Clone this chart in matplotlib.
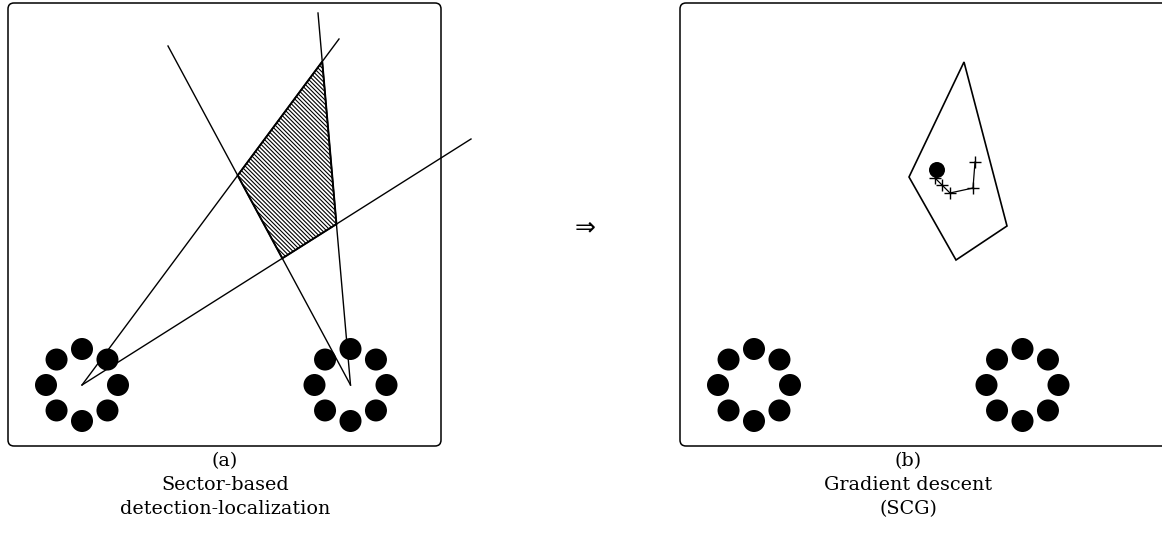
import numpy as np
import matplotlib
matplotlib.use("Agg")
import matplotlib.pyplot as plt
from matplotlib.patches import Circle, FancyBboxPatch, Polygon

plt.rcParams["font.family"] = "DejaVu Serif"
plt.rcParams["hatch.linewidth"] = 0.8

#%% layout data (pixel frame, y grows downward)

W, H = 1162, 542
panel_left = [8, 680]
panel_width = [433, 520]
panel_top, panel_height = 3, 443

# two circular microphone arrays, same place in both panels
array_dx = [74, 342.5]
array_y = 385
ring_radius = 36
mic_radius = 11
n_mics = 8

# (a) sector rays: each array casts two bounding rays (end points)
rays_left = [(339, 39), (471, 139)]
rays_right = [(168, 46), (318, 13)]

# (b) initial polygon and descent path
poly_b_x = [964, 909, 956, 1007]
poly_b_y = [62, 177, 260, 226]
path_x = [975, 973, 950, 942, 935]
path_y = [162, 188, 193, 185, 178]
target_b = (937, 170)
target_radius = 8

captions = [["(a)", "Sector-based", "detection-localization"],
            ["(b)", "Gradient descent", "(SCG)"]]
caption_x = [225, 908]
caption_y = [461, 485, 509]


def intersect(p0, p1, q0, q1):
    p0, p1, q0, q1 = map(np.asarray, (p0, p1, q0, q1))
    d1, d2 = p1 - p0, q1 - q0
    m = np.array([d1, -d2]).T
    t, _ = np.linalg.solve(m, q0 - p0)
    return p0 + t * d1


#%% plot

fig = plt.figure(figsize=(W / 100, H / 100), dpi=100)
ax = fig.add_axes([0, 0, 1, 1])
ax.set_xlim(0, W)
ax.set_ylim(H, 0)
ax.axis("off")

for k, x0 in enumerate(panel_left):
    box = FancyBboxPatch((x0, panel_top), panel_width[k], panel_height,
                         boxstyle="round,pad=0,rounding_size=6",
                         fc="white", ec="black", lw=1.1, zorder=0)
    ax.add_patch(box)
    for dx in array_dx:
        cx = x0 + dx
        for j in range(n_mics):
            a = np.pi / 2 + 2 * np.pi * j / n_mics
            ax.add_patch(Circle((cx + ring_radius * np.cos(a),
                                 array_y - ring_radius * np.sin(a)),
                                mic_radius, fc="black", ec="none", zorder=3))
    for line, y in zip(captions[k], caption_y):
        ax.text(caption_x[k], y, line, ha="center", va="center", fontsize=13.8)

# sector rays from the array centres
src_l = (panel_left[0] + array_dx[0], array_y)
src_r = (panel_left[0] + array_dx[1], array_y)
for src, rays in [(src_l, rays_left), (src_r, rays_right)]:
    for end in rays:
        ax.plot([src[0], end[0]], [src[1], end[1]], color="black", lw=1.0, zorder=2)

# overlap of the two sectors
top = intersect(src_l, rays_left[0], src_r, rays_right[1])
left = intersect(src_l, rays_left[0], src_r, rays_right[0])
bottom = intersect(src_l, rays_left[1], src_r, rays_right[0])
right = intersect(src_l, rays_left[1], src_r, rays_right[1])
ax.add_patch(Polygon([top, left, bottom, right], closed=True, fc="white",
                     ec="black", lw=1.4, hatch="\\" * 8, zorder=1))

# gradient descent inside the region
ax.add_patch(Polygon(np.column_stack([poly_b_x, poly_b_y]), closed=True,
                     fill=False, ec="black", lw=1.2, zorder=2))
ax.plot(path_x, path_y, color="black", lw=0.9, marker="+", ms=8, mew=1.0, zorder=2)
ax.add_patch(Circle(target_b, target_radius, fc="black", ec="none", zorder=3))

ax.text(583, 227, r"$\Rightarrow$", ha="center", va="center", fontsize=18)

fig.savefig("out.png", dpi=100)
